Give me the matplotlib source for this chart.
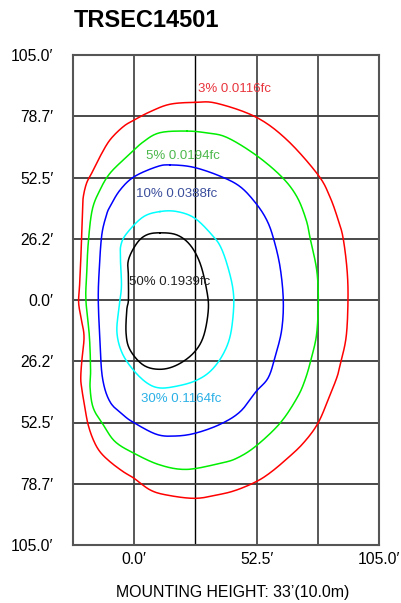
import numpy as np
import matplotlib
matplotlib.use('Agg')
import matplotlib.pyplot as plt

plt.rcParams['font.family'] = ['Liberation Sans', 'DejaVu Sans']

# isofootcandle contours, feet (x across, y along the road)
red_x = [26.2, 35.4, 52.2, 65.5, 78.8, 83.9, 87.4, 89.5, 91.2, 91.6, 90.8, 88.2, 86.9, 83.9,
         78.8, 72.5, 65.4, 58.2, 52.2, 44.0, 36.8, 26.2, 14.1, 6.9, 0.0, -4.6, -10.3, -14.6,
         -17.4, -19.6, -21.0, -22.4, -22.8, -22.4, -21.4, -22.5, -23.7, -23.3, -22.8, -22.0,
         -21.7, -20.3, -18.1, -14.6, -10.3, -4.6, 0.0, 6.9, 15.4]
red_y = [84.7, 84.3, 78.4, 68.6, 53.6, 44.1, 34.3, 26.6, 12.9, 0.0, -15.9, -27.9, -33.0, -40.7,
         -52.7, -61.3, -68.1, -74.1, -77.9, -81.4, -83.3, -85.0, -83.6, -81.4, -76.4, -73.6, -69.3, -65.0,
         -60.0, -53.6, -46.4, -37.8, -33.4, -26.6, -15.9, -8.6, -1.3, 6.4, 17.1, 38.6,
         44.3, 50.1, 54.4, 61.4, 68.6, 74.3, 77.1, 80.7, 83.9]

green_x = [22.6, 31.1, 39.7, 52.2, 63.2, 69.7, 73.7, 75.4, 78.2, 78.9, 78.2, 76.1, 73.2, 69.7,
           62.5, 52.2, 44.0, 36.8, 22.6, 11.1, 0.0, -8.1, -13.1, -17.4, -18.8, -18.6, -19.1,
           -20.6, -20.3, -19.6, -17.9, -14.6, -10.3, -3.1, 4.0, 11.1]
green_y = [72.4, 71.6, 69.7, 62.1, 52.8, 44.3, 34.3, 26.4, 12.9, 0.0, -14.3, -24.3, -34.3, -42.1,
           -52.8, -62.6, -67.8, -70.0, -72.6, -70.7, -65.7, -60.7, -53.6, -46.4, -37.8, -30.0, -15.7,
           0.0, 10.0, 24.3, 38.6, 47.1, 54.3, 61.4, 67.8, 71.7]

blue_x = [15.4, 25.4, 36.8, 45.4, 52.2, 56.8, 59.7, 62.5, 63.9, 63.2, 60.4, 57.4, 52.2, 45.4,
          36.8, 26.2, 17.6, 9.7, 0.0, -4.6, -10.3, -13.5, -14.6, -15.3, -14.9, -13.8, -11.8,
          -10.3, -6.0, 0.0, 9.7]
blue_y = [57.9, 56.9, 53.1, 48.6, 41.4, 34.3, 26.4, 14.3, 0.0, -12.9, -24.3, -33.4, -39.3, -47.9,
          -53.3, -57.1, -58.3, -57.6, -52.6, -49.3, -43.6, -33.4, -17.1, 0.0, 12.9, 27.9, 36.4,
          40.0, 47.1, 52.8, 57.1]

cyan_x = [11.1, 18.4, 26.1, 33.8, 37.3, 40.3, 42.4, 42.6, 41.1, 37.7, 32.5, 26.1, 18.4, 11.1,
          5.6, -0.3, -5.1, -7.3, -6.6, -5.4, -5.8, -5.6, -3.0, 3.9]
cyan_y = [37.9, 37.9, 35.0, 27.4, 22.3, 13.7, 4.3, -4.3, -15.7, -24.0, -30.7, -34.7, -36.9, -37.7,
          -35.6, -30.0, -22.7, -14.1, -4.3, 5.6, 17.1, 23.6, 28.7, 35.6]

black_x = [11.1, 18.3, 24.0, 28.3, 31.1, 31.8, 29.7, 25.4, 18.3, 11.1, 4.0, -1.7, -3.4, -3.1,
           -2.4, -2.4, -2.4, 1.2, 5.4]
black_y = [28.8, 27.9, 23.6, 15.7, 4.3, -4.3, -15.7, -22.8, -27.9, -29.7, -27.9, -21.4, -14.3, -4.3,
           0.0, 10.0, 17.1, 24.3, 27.9]

labels = ['3% 0.0116fc', '5% 0.0194fc', '10% 0.0388fc', '30% 0.1164fc', '50% 0.1939fc']
label_x = [27.4, 5.1, 0.9, 3.0, -2.0]
label_y = [90.4, 61.7, 45.4, -42.6, 7.8]

grid_step = 26.25
x_ticks = [-26.25, 0, 26.25, 52.5, 78.75, 105]
x_labels = ['', '0.0′', '', '52.5′', '', '105.0′']
y_ticks = [105, 78.75, 52.5, 26.25, 0, -26.25, -52.5, -78.75, -105]
y_labels = ['105.0′', '78.7′', '52.5′', '26.2′', '0.0′', '26.2′', '52.5′', '78.7′', '105.0′']


def smooth_closed(xs, ys, n=12):
    # closed Catmull-Rom through the traced points
    p = np.column_stack([xs, ys])
    m = len(p)
    out = []
    t = np.linspace(0, 1, n, endpoint=False)[:, None]
    for i in range(m):
        p0, p1, p2, p3 = p[i - 1], p[i], p[(i + 1) % m], p[(i + 2) % m]
        seg = 0.5 * (2 * p1 + (-p0 + p2) * t + (2 * p0 - 5 * p1 + 4 * p2 - p3) * t ** 2
                     + (-p0 + 3 * p1 - 3 * p2 + p3) * t ** 3)
        out.append(seg)
    out = np.vstack(out + [p[:1]])
    return out[:, 0], out[:, 1]


fig = plt.figure(figsize=(4.02, 6.03), dpi=100)
ax = fig.add_axes([72.7 / 402, 1 - 545 / 603, (379.3 - 72.7) / 402, (545 - 55) / 603])
ax.set_xlim(-26.25, 105)
ax.set_ylim(-105, 105)

for v in x_ticks[1:-1]:
    ax.axvline(v, color='black' if v == 26.25 else '#4a4a4a', lw=1.0 if v == 26.25 else 1.3, zorder=1)
for v in y_ticks[1:-1]:
    ax.axhline(v, color='#3a3a3a', lw=1.3, zorder=1)
for s in ax.spines.values():
    s.set_color('#555555')
    s.set_linewidth(1.5)

curves = [(red_x, red_y, '#ff0000'), (green_x, green_y, '#00ee00'), (blue_x, blue_y, '#0000ff'),
          (cyan_x, cyan_y, '#00ffff'), (black_x, black_y, 'black')]
for cx, cy, col in curves:
    sx, sy = smooth_closed(cx, cy)
    ax.plot(sx, sy, color=col, lw=1.1, zorder=3)

label_colors = ['#e8343c', '#4cb84c', '#3c4f9c', '#2ab0e6', '#222222']
for t, lx, ly, c in zip(labels, label_x, label_y, label_colors):
    ax.text(lx, ly, t, color=c, fontsize=9.5, ha='left', va='center', zorder=4)

ax.set_xticks(x_ticks)
ax.set_xticklabels(x_labels)
ax.set_yticks(y_ticks)
ax.set_yticklabels(y_labels)
ax.tick_params(axis='both', length=0, labelsize=11.3, colors='black')
ax.tick_params(axis='y', pad=14)
ax.tick_params(axis='x', pad=5)

fig.text(74 / 402, 1 - 27 / 603, 'TRSEC14501', fontsize=17, fontweight='bold', ha='left', va='baseline')
fig.text(233 / 402, 1 - 593 / 603, 'MOUNTING HEIGHT: 33’(10.0m)', fontsize=11.4, ha='center', va='center')

fig.savefig('out.png', dpi=100)
